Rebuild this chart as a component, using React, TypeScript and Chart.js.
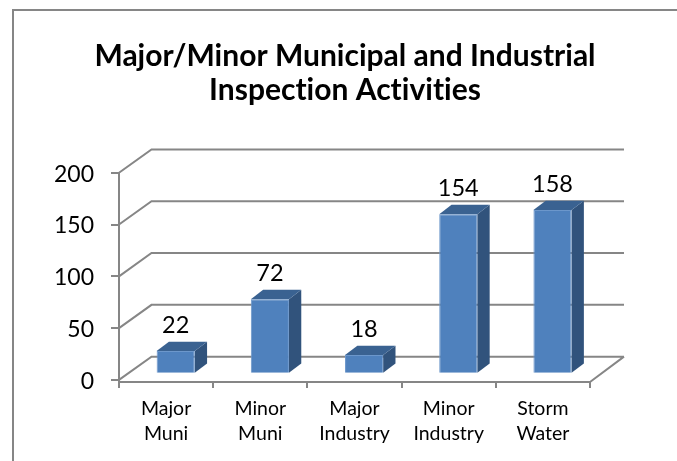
import React, { useEffect, useRef } from "react";
import { Chart, registerables } from "chart.js";

Chart.register(...registerables);

const titleLines = ["Major/Minor Municipal and Industrial", "Inspection Activities"];
const categories = [["Major", "Muni"], ["Minor", "Muni"], ["Major", "Industry"], ["Minor", "Industry"], ["Storm", "Water"]];
const inspections = [22, 72, 18, 154, 158];
const yTicks = [0, 50, 100, 150, 200];

const FONT = "Lato";
const GRID = "#868686";
const FRONT = "#4F81BD";
const SIDE = "#31537C";
const TOP = "#3A6291";
const WALL_DX = 32.5;
const WALL_DY = 23.3;
const BAR_SHIFT_X = 9.6;
const BAR_SHIFT_Y = 6.2;
const BAR_DX = 12.3;
const BAR_DY = 9.3;

const threeD = {
  id: "threeD",
  beforeDraw(chart: any) {
    const { ctx } = chart;
    ctx.letterSpacing = "0.01px";
    ctx.save();
    ctx.strokeStyle = GRID;
    ctx.lineWidth = 2;
    ctx.strokeRect(13, 10, 900, 900);
    ctx.restore();
  },
  beforeDatasetsDraw(chart: any) {
    const { ctx, chartArea, scales } = chart;
    const y = scales.y;
    ctx.save();
    ctx.strokeStyle = GRID;
    ctx.lineWidth = 2;
    ctx.beginPath();
    yTicks.forEach((v) => {
      const py = y.getPixelForValue(v);
      ctx.moveTo(chartArea.left, py);
      ctx.lineTo(chartArea.left + WALL_DX, py - WALL_DY);
      ctx.lineTo(chartArea.right + WALL_DX + 1.5, py - WALL_DY);
    });
    const floorFrontY = chartArea.bottom;
    ctx.moveTo(chartArea.right, floorFrontY);
    ctx.lineTo(chartArea.right + WALL_DX + 1.5, y.getPixelForValue(0) - WALL_DY);
    ctx.stroke();
    ctx.restore();
  },
  beforeDatasetDraw(chart: any, args: any) {
    const { ctx } = chart;
    const meta = chart.getDatasetMeta(args.index);
    meta.data.forEach((bar: any) => {
      const { x, y, base, width } = bar.getProps(["x", "y", "base", "width"], true);
      const r = x + width / 2 + BAR_SHIFT_X;
      const l = x - width / 2 + BAR_SHIFT_X;
      const t = y - BAR_SHIFT_Y;
      const b = base - BAR_SHIFT_Y;
      ctx.fillStyle = SIDE;
      ctx.beginPath();
      ctx.moveTo(r, t);
      ctx.lineTo(r + BAR_DX, t - BAR_DY);
      ctx.lineTo(r + BAR_DX, b - BAR_DY);
      ctx.lineTo(r, b);
      ctx.closePath();
      ctx.fill();
      ctx.fillStyle = TOP;
      ctx.beginPath();
      ctx.moveTo(l, t);
      ctx.lineTo(l + BAR_DX, t - BAR_DY);
      ctx.lineTo(r + BAR_DX, t - BAR_DY);
      ctx.lineTo(r, t);
      ctx.closePath();
      ctx.fill();
    });
    ctx.save();
    ctx.translate(BAR_SHIFT_X, -BAR_SHIFT_Y);
  },
  afterDatasetDraw(chart: any) {
    chart.ctx.restore();
  },
  afterDatasetsDraw(chart: any) {
    const { ctx } = chart;
    const meta = chart.getDatasetMeta(0);
    ctx.save();
    ctx.fillStyle = "#000000";
    ctx.font = `23.5px ${FONT}`;
    ctx.textAlign = "center";
    ctx.textBaseline = "middle";
    meta.data.forEach((bar: any, i: number) => {
      const { x, y } = bar.getProps(["x", "y"], true);
      ctx.fillText(String(inspections[i]), x + BAR_SHIFT_X, y - BAR_SHIFT_Y - 26);
    });
    ctx.restore();
  },
};

export default function App() {
  const ref = useRef<HTMLCanvasElement>(null);
  useEffect(() => {
    const chart = new Chart(ref.current as HTMLCanvasElement, {
      type: "bar",
      data: {
        labels: categories as any,
        datasets: [
          {
            label: "Inspections",
            data: inspections,
            backgroundColor: FRONT,
            borderColor: "#6C97CB",
            borderWidth: 1,
            barPercentage: 0.405,
            categoryPercentage: 1,
          },
        ],
      },
      options: {
        responsive: false,
        animation: false,
        layout: { padding: { left: 13, right: 0, top: 0, bottom: 0 } },
        plugins: {
          legend: { display: false },
          tooltip: { enabled: false },
          title: {
            display: true,
            text: titleLines,
            color: "#000000",
            font: { family: FONT, size: 30, weight: "bold", lineHeight: 34 / 30 },
            padding: { top: 39, bottom: 65.7 },
          },
        },
        scales: {
          x: {
            grid: { drawOnChartArea: false, drawTicks: true, tickLength: 6, color: GRID, lineWidth: 2 },
            border: { display: true, color: GRID, width: 2 },
            ticks: { color: "#000000", font: { family: FONT, size: 19.5, lineHeight: 25 / 19.5 }, padding: 8, maxRotation: 0, autoSkip: false },
            afterFit(s: any) { s.height = 79; },
          },
          y: {
            min: -2,
            max: 200,
            afterBuildTicks(s: any) { s.ticks = yTicks.map((value) => ({ value })); },
            grid: { drawOnChartArea: false, drawTicks: true, tickLength: 8, color: GRID, lineWidth: 2 },
            border: { display: true, color: GRID, width: 2 },
            ticks: { color: "#000000", font: { family: FONT, size: 23 }, padding: 17, labelOffset: 1.5, callback: (v: any) => String(v) },
            afterFit(s: any) { s.width = 106; },
          },
          y2: {
            type: "linear",
            position: "right",
            display: true,
            grid: { display: false },
            border: { display: false },
            ticks: { display: false },
            afterFit(s: any) { s.width = 87; },
          },
        },
      } as any,
      plugins: [threeD],
    });
    return () => chart.destroy();
  }, []);
  return (
    <div style={{ position: "fixed", left: 0, top: 0, width: 677, height: 461, background: "#fff" }}>
      <canvas ref={ref} width={677} height={461} style={{ display: "block" }} />
    </div>
  );
}
